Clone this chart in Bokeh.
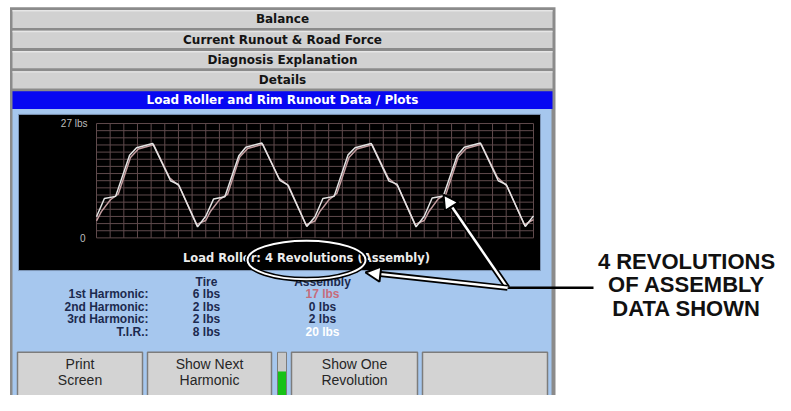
import numpy as np
from bokeh.plotting import figure
from bokeh.models import Range1d
from bokeh.embed import file_html
from bokeh.resources import INLINE
from bokeh.core.properties import value

# ---------------- data ----------------
tab_labels = ["Balance", "Current Runout & Road Force", "Diagnosis Explanation", "Details"]
panel_title = "Load Roller and Rim Runout Data / Plots"
plot_caption = "Load Roller: 4 Revolutions (Assembly)"
y_top_label = "27 lbs"
y_bottom_label = "0"
Y_MAX = 27          # lbs
X_MAX = 1440        # degrees (4 revolutions)

# assembly load-roller trace (white), degrees -> lbs
white_deg = [0, 26, 63, 109, 132, 185, 244, 270, 333,
             360, 386, 423, 469, 492, 545, 604, 630, 693,
             720, 746, 783, 829, 852, 905, 964, 990, 1053,
             1080, 1106, 1143, 1189, 1212, 1265, 1324, 1350, 1413, 1440]
white_lbs = [5.0, 9.3, 9.8, 19.5, 21.3, 22.3, 13.5, 12.6, 2.6,
             5.1, 9.2, 9.7, 19.4, 21.4, 22.4, 13.6, 12.5, 2.7,
             5.0, 9.3, 9.8, 19.6, 21.3, 22.3, 13.4, 12.7, 2.6,
             5.1, 9.4, 9.9, 19.5, 21.4, 22.4, 13.5, 12.6, 2.7, 5.2]
# second (pinkish) trace
pink_deg = [0, 16, 46, 72, 112, 138, 188, 241, 273, 330,
            360, 376, 406, 432, 472, 498, 548, 601, 633, 690,
            720, 736, 766, 792, 832, 858, 908, 961, 993, 1050,
            1080, 1096, 1126, 1152, 1192, 1218, 1268, 1321, 1353, 1410, 1440]
pink_lbs = [4.0, 6.2, 9.0, 10.4, 19.0, 21.0, 22.0, 14.2, 12.2, 3.2,
            4.1, 6.3, 9.1, 10.3, 19.1, 21.1, 22.1, 14.1, 12.3, 3.1,
            4.0, 6.2, 9.0, 10.5, 19.0, 21.0, 22.0, 14.2, 12.2, 3.2,
            4.1, 6.3, 9.2, 10.4, 19.1, 21.1, 22.1, 14.3, 12.2, 3.1, 4.3]

row_labels = ["1st Harmonic:", "2nd Harmonic:", "3rd Harmonic:", "T.I.R.:"]
tire_vals = [6, 2, 2, 8]
assembly_vals = [17, 0, 2, 20]
col_headers = ["Tire", "Assembly"]
button_labels = [("Print", "Screen"), ("Show Next", "Harmonic"), ("Show One", "Revolution"), ("", "")]
callout_lines = ["4 REVOLUTIONS", "OF ASSEMBLY", "DATA SHOWN"]

# ---------------- layout (reference pixel coordinates) ----------------
W, H = 775, 395
X0, X1 = 0, 775
Y0, Y1 = 0, 411
UI = value("DejaVu Sans")
SANS = value("Liberation Sans")

p = figure(width=W, height=H, output_backend="svg", toolbar_location=None,
           x_range=Range1d(X0, X1), y_range=Range1d(Y1, Y0),
           x_axis_location=None, y_axis_location=None, min_border=0)
p.outline_line_color = None
p.background_fill_color = "white"
p.border_fill_color = "white"
p.xgrid.visible = False
p.ygrid.visible = False

# data ranges mapped onto the plot grid box
GX0, GX1, GY0, GY1 = 96, 533, 247, 128   # grid box: left, right, bottom(0), top(27)
kx = X_MAX / (GX1 - GX0)
ky = Y_MAX / (GY0 - GY1)
p.extra_x_ranges = {"deg": Range1d(-(GX0 - X0) * kx, X_MAX + (X1 - GX1) * kx)}
p.extra_y_ranges = {"lbs": Range1d(-(Y1 - GY0) * ky, Y_MAX + (GY1 - Y0) * ky)}

# outer frame
p.quad(left=[9.5], right=[555], top=[7], bottom=[415], fill_color="#8b8b8b", line_color=None)

# tabs
tab_rows = [(10, 28.5), (31.5, 49.5), (52.5, 70.5), (73.5, 91.5)]
for (t, b), lab in zip(tab_rows, tab_labels):
    p.quad(left=[12], right=[552], top=[t], bottom=[b], fill_color="#d1d1d1", line_color=None)
    p.quad(left=[12], right=[552], top=[t], bottom=[t + 1.5], fill_color="#e6e6e6", line_color=None)
    p.text(x=[282], y=[(t + b) / 2 + 0.5], text=[lab], text_font=UI, text_font_style="bold",
           text_font_size="12px", text_align="center", text_baseline="middle", text_color="#141414")

# blue title bar
p.quad(left=[12], right=[552], top=[94.5], bottom=[113], fill_color="#0707f2", line_color=None)
p.text(x=[282], y=[104], text=[panel_title], text_font=UI, text_font_style="bold",
       text_font_size="12px", text_align="center", text_baseline="middle", text_color="white")

# light-blue panel
p.quad(left=[12], right=[551], top=[113], bottom=[415], fill_color="#a6c7ee", line_color=None)

# black chart panel
p.quad(left=[18], right=[540], top=[118.5], bottom=[281], fill_color="black", line_color="#7d95b5", line_width=1)

# grid (in data units)
gx = np.arange(0, X_MAX + 1, 45)
gy = np.linspace(0, Y_MAX, 17)
p.segment(x0=gx, y0=np.zeros_like(gx), x1=gx, y1=np.full_like(gx, Y_MAX, dtype=float),
          line_color="#5f4a4c", line_width=1, x_range_name="deg", y_range_name="lbs")
p.segment(x0=np.zeros_like(gy), y0=gy, x1=np.full_like(gy, X_MAX), y1=gy,
          line_color="#5f4a4c", line_width=1, x_range_name="deg", y_range_name="lbs")

# traces
p.line(pink_deg, pink_lbs, line_color="#c39c9f", line_width=1.5, x_range_name="deg", y_range_name="lbs")
p.line(white_deg, white_lbs, line_color="#e4e4e4", line_width=1.5, x_range_name="deg", y_range_name="lbs")

# y labels
p.text(x=[87], y=[Y_MAX], text=[y_top_label], text_font=SANS, text_font_size="10px",
       text_align="right", text_baseline="middle", text_color="#bdbdbd", y_range_name="lbs")
p.text(x=[85], y=[0], text=[y_bottom_label], text_font=SANS, text_font_size="10px",
       text_align="right", text_baseline="middle", text_color="#bdbdbd", y_range_name="lbs")

# caption
p.text(x=[306], y=[268], text=[plot_caption], text_font=UI, text_font_style="bold",
       text_font_size="11.5px", text_align="center", text_baseline="middle", text_color="#ececec")

# table
ROW_Y = [305.5, 318.5, 331.5, 344.5]
HEAD_Y = 292.5
TIRE_X, ASM_X, LAB_X = 206, 322, 148
NAVY = "#1c2a4e"
p.text(x=[TIRE_X, ASM_X], y=[HEAD_Y, HEAD_Y], text=col_headers, text_font=SANS, text_font_style="bold",
       text_font_size="12px", text_align="center", text_baseline="middle", text_color=NAVY)
p.text(x=[LAB_X] * 4, y=ROW_Y, text=row_labels, text_font=SANS, text_font_style="bold",
       text_font_size="12px", text_align="right", text_baseline="middle", text_color=NAVY)
p.text(x=[TIRE_X] * 4, y=ROW_Y, text=[f"{v} lbs" for v in tire_vals], text_font=SANS,
       text_font_style="bold", text_font_size="12px", text_align="center", text_baseline="middle",
       text_color=NAVY)
asm_colors = ["#c66c7c", NAVY, NAVY, "#ffffff"]
p.text(x=[ASM_X] * 4, y=ROW_Y, text=[f"{v} lbs" for v in assembly_vals], text_font=SANS,
       text_font_style="bold", text_font_size="12px", text_align="center", text_baseline="middle",
       text_color=asm_colors)

# buttons
btn_x = [(17, 142), (147, 271), (291, 417), (422, 547)]
for (l, r), (a, b) in zip(btn_x, button_labels):
    p.quad(left=[l], right=[r], top=[366], bottom=[415], fill_color="#d3d3d3",
           line_color="#7c7c7c", line_width=1.5)
    cx = (l + r) / 2
    p.text(x=[cx, cx], y=[378, 395], text=[a, b], text_font=SANS, text_font_size="14px",
           text_align="center", text_baseline="middle", text_color="#262626")
# indicator
p.quad(left=[277], right=[286], top=[366], bottom=[415], fill_color="#c9c9c9", line_color="#7c7c7c", line_width=1)
p.quad(left=[277.5], right=[285.5], top=[386], bottom=[415], fill_color="#17c217", line_color=None)

# ellipse callout
p.ellipse(x=[306], y=[270], width=[118], height=[40], fill_color=None, line_color="black", line_width=5)
p.ellipse(x=[306], y=[270], width=[118], height=[40], fill_color=None, line_color="white", line_width=2)

# arrows
def hollow_arrow(tail, tip, L=15, Wd=8):
    tx, ty = tail
    hx, hy = tip
    d = np.hypot(hx - tx, hy - ty)
    ux, uy = (hx - tx) / d, (hy - ty) / d
    bx, by = hx - ux * L, hy - uy * L
    nx, ny = -uy, ux
    p.line([tx, bx], [ty, by], line_color="black", line_width=6)
    p.line([tx, bx + ux * 2], [ty, by + uy * 2], line_color="white", line_width=2.5)
    p.patch([hx, bx + nx * Wd, bx - nx * Wd], [hy, by + ny * Wd, by - ny * Wd],
            fill_color="white", line_color="black", line_width=2)

JOIN = (507, 299)
p.line([JOIN[0], 593], [JOIN[1], JOIN[1]], line_color="black", line_width=2.5)
hollow_arrow(JOIN, (443, 202))
hollow_arrow(JOIN, (365, 283))

# callout text
p.text(x=[686] * 3, y=[272, 296, 320], text=callout_lines, text_font=SANS, text_font_style="bold",
       text_font_size="22px", text_align="center", text_baseline="middle", text_color="#111111")

open("out.html", "w").write(file_html(p, INLINE))
